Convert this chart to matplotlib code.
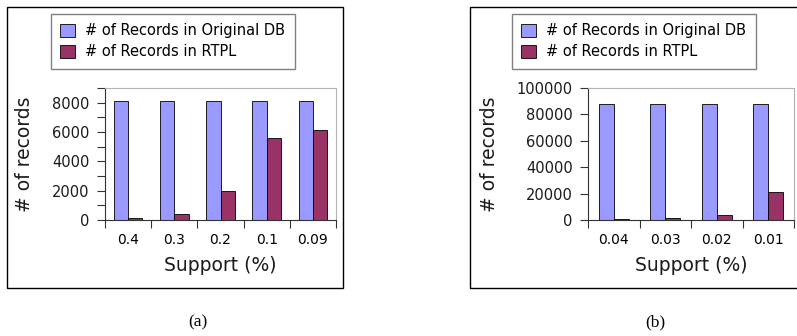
import numpy as np
import matplotlib

matplotlib.use("Agg")
import matplotlib.pyplot as plt  # noqa: E402
from matplotlib.patches import Rectangle  # noqa: E402

W, H = 797, 336

# panel (a): mushroom-sized DB
support_a = ["0.4", "0.3", "0.2", "0.1", "0.09"]
orig_a = [8124, 8124, 8124, 8124, 8124]
rtpl_a = [170, 440, 1980, 5600, 6170]

# panel (b): larger DB
support_b = ["0.04", "0.03", "0.02", "0.01"]
orig_b = [88162, 88162, 88162, 88162]
rtpl_b = [500, 1200, 3500, 21400]

BLUE = "#9999ff"
RED = "#993366"
FONT = "DejaVu Sans"


def px_axes(fig, x0, y0, x1, y1):
    return fig.add_axes([x0 / W, 1 - y1 / H, (x1 - x0) / W, (y1 - y0) / H])


def panel(fig, box, ax_px, leg_px, ylab_x, labels, orig, rtpl, ymax, major,
          minor, bw):
    bx0, by0, bx1, by1 = box
    fig.patches.append(Rectangle((bx0 / W, 1 - by1 / H), (bx1 - bx0) / W,
                                 (by1 - by0) / H, transform=fig.transFigure,
                                 fill=False, ec="black", lw=1.0))
    ax = px_axes(fig, *ax_px)
    x = np.arange(len(labels))
    b1 = ax.bar(x - bw / 2, orig, bw, color=BLUE, ec="black", lw=0.6)
    b2 = ax.bar(x + bw / 2, rtpl, bw, color=RED, ec="black", lw=0.6)
    ax.set_xlim(-0.5, len(labels) - 0.5)
    ax.set_ylim(0, ymax)
    ax.set_xticks(np.arange(len(labels) + 1) - 0.5)
    ax.set_xticklabels([])
    ax.set_xticks(x, labels, minor=True)
    ax.tick_params(axis="x", which="minor", length=0, pad=9)
    ax.tick_params(axis="x", which="major", length=6, width=0.8, color="#333333")
    ax.set_yticks(np.arange(0, ymax + 1, major))
    if minor:
        ax.set_yticks(np.arange(0, ymax + 1, minor), minor=True)
        ax.tick_params(axis="y", which="minor", length=6, width=0.8, color="#333333")
    ax.tick_params(axis="y", which="major", length=6, width=0.8, color="#333333",
                   pad=5)
    ax.tick_params(labelsize=10.5, labelcolor="#1a1a1a")
    for lab in ax.get_xticklabels(minor=True) + ax.get_yticklabels():
        lab.set_fontfamily(FONT)
    for s in ("top", "right"):
        ax.spines[s].set_color("#b3b3b3")
    for s in ("left", "bottom"):
        ax.spines[s].set_color("#333333")
    ax.set_xlabel("Support (%)", fontsize=13.5, family=FONT, labelpad=7,
                  color="#1a1a1a")
    ax.set_ylabel("# of records", fontsize=13.5, family=FONT, color="#1a1a1a")
    # y label anchor (its right edge) given in figure pixels
    x0, _, x1, _ = ax_px
    ax.yaxis.set_label_coords((ylab_x - x0) / (x1 - x0), 0.5)
    lx0, ly0 = leg_px
    fig.legend([b1, b2], ["# of Records in Original DB", "# of Records in RTPL"],
               loc="upper left", bbox_to_anchor=(lx0 / W, 1 - ly0 / H),
               bbox_transform=fig.transFigure, borderaxespad=0,
               fancybox=False, framealpha=1, edgecolor="#808080",
               prop={"family": FONT, "size": 10.5}, handlelength=1.0,
               handleheight=1.0, handletextpad=0.7, labelspacing=0.4,
               borderpad=0.65)
    return ax


fig = plt.figure(figsize=(W / 100, H / 100), dpi=100)

panel(fig, (7, 7, 343, 288), (105, 88, 336, 220), (51, 14), 34,
      support_a, orig_a, rtpl_a, 9000, 2000, 1000, 0.31)
panel(fig, (470, 7, 810, 288), (588, 88, 794, 220), (512, 14), 499,
      support_b, orig_b, rtpl_b, 100000, 20000, None, 0.29)

fig.text(198 / W, 1 - 322 / H, "(a)", ha="center", va="center",
         family="Liberation Serif", fontsize=12.5)
fig.text(655 / W, 1 - 322 / H, "(b)", ha="center", va="center",
         family="Liberation Serif", fontsize=12.5)

fig.savefig("out.png", dpi=100)
